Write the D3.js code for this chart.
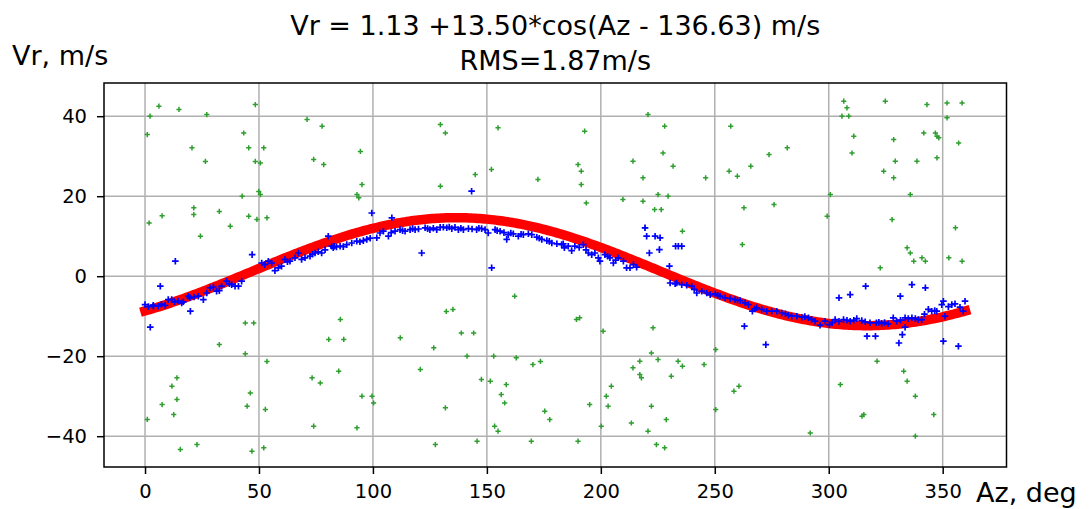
<!DOCTYPE html>
<html>
<head>
<meta charset="utf-8">
<script src="https://cdn.jsdelivr.net/npm/d3@7"></script>
<style>
  html, body { margin: 0; padding: 0; background: #fff; }
  svg { display: block; }
  text { font-family: "DejaVu Sans", sans-serif; fill: #000; }
</style>
</head>
<body>
<svg id="chart" width="1089" height="509"></svg>
<script>
// Radial velocity vs azimuth: fitted sine wave, accepted points and rejected outliers.

// Fit parameters (Vr = offset + amp * cos(Az - phase))
const fitOffset = 1.13;
const fitAmp = 13.50;
const fitPhase = 136.63;
const fitRms = 1.87;

// Tick labels
const xTicks = [0, 50, 100, 150, 200, 250, 300, 350];
const yTicks = [-40, -20, 0, 20, 40];

// Accepted measurements (blue)
const blueAz = [
  0, 1.5, 3.6, 3.7, 5.8, 7.2, 8.8, 10.2, 11.7, 13.0, 14.5, 16.1, 16.8, 19.0, 19.7, 21.5, 23.4, 25.6, 27.1, 28.5,
  30.0, 31.4, 32.6, 33.6, 35.8, 37.0, 38.0, 39.5, 41.0, 42.4, 51.2, 52.5, 54.1, 55.6, 57.0, 58.5, 59.9, 61.4, 62.5, 63.6,
  65.8, 67.3, 68.7, 70.2, 72.4, 73.5, 74.6, 76.0, 77.5, 79.0, 81.9, 83.0, 82.6, 84.0, 85.6, 87.0, 88.5, 90.7, 92.9, 94.3,
  95.8, 97.3, 98.8, 101.7, 103.1, 104.6, 106.8, 108.0, 109.7, 111.9, 113.0, 114.1, 116.3, 117.4, 118.5, 120.0, 122.9, 124.0, 125.0, 126.5,
  128.0, 129.5, 130.9, 132.4, 133.5, 134.6, 136.0, 137.5, 138.6, 139.7, 141.9, 143.5, 145.5, 146.5, 147.7, 149.2, 150.6, 153.6, 154.5, 155.8,
  157.5, 159.4, 160.5, 161.6, 163.8, 165.0, 166.0, 168.2, 169.7, 171.9, 173.0, 174.1, 176.3, 177.4, 178.5, 180.7, 182.8, 183.5, 184.0, 185.7,
  187.2, 188.6, 190.5, 192.3, 193.5, 194.5, 196.0, 197.4, 198.9, 199.6, 201.8, 203.0, 204.0, 205.5, 206.5, 207.7, 209.9, 211.3, 212.8, 214.3,
  215.7, 230.4, 232.6, 233.3, 235.5, 237.7, 239.9, 241.0, 242.1, 244.3, 246.5, 248.0, 250.2, 251.3, 252.3, 254.5, 256.7, 258.9, 260.0, 261.1,
  263.3, 264.8, 266.5, 267.5, 268.4, 270.6, 272.8, 275.0, 277.2, 279.4, 281.0, 282.3, 283.8, 286.0, 288.2, 289.5, 291.1, 292.5, 294.0, 296.2,
  298.4, 300.3, 301.5, 302.8, 304.5, 306.5, 308.0, 309.4, 311.0, 312.3, 314.5, 316.0, 318.1, 320.9, 322.0, 323.2, 324.5, 326.1, 328.3, 329.8,
  331.5, 333.5, 334.9, 336.5, 338.0, 339.3, 340.8, 342.0, 343.7, 345.2, 346.5, 347.4, 349.6, 350.3, 351.0, 352.5, 354.0, 355.4, 357.6, 359.0,
  359.8,
  // scattered accepted points away from the curve
  13.3, 6.7, 2.3, 19.9, 47.0, 80.4, 99.5, 108.3, 121.4, 143.3, 152.1, 158.7,
  219.4, 220.1, 221.3, 223.8, 226.0, 225.7, 230.1, 232.8, 234.0, 235.5,
  263.0, 272.4, 304.5, 309.4, 316.2, 316.8, 320.5, 331.4, 332.3, 330.8, 333.5, 336.5, 342.4, 350.3, 356.9
];
const blueVr = [
  -7.1, -7.6, -7.25, -7.5, -7.5, -7.0, -7.3, -5.85, -5.85, -6.4, -6.2, -6.7, -6.4, -5.0, -5.4, -5.2, -5.0, -5.85, -4.2, -2.9,
  -2.7, -3.75, -3.6, -2.5, -1.25, -1.9, -2.1, -2.5, -2.5, -1.25, 3.3, 2.9, 3.75, 3.3, 1.4, 2.1, 2.5, 4.2, 3.6, 3.75,
  4.6, 5.8, 4.2, 4.6, 5.0, 5.5, 5.8, 6.1, 5.8, 6.6, 7.5, 7.5, 7.1, 7.3, 7.5, 7.4, 7.9, 8.3, 8.75, 8.6,
  8.9, 9.2, 9.5, 9.6, 10.8, 11.25, 10.0, 10.9, 11.25, 11.65, 11.4, 11.25, 11.65, 11.9, 11.65, 11.8, 12.1, 11.9, 11.65, 12.0,
  11.65, 12.2, 12.25, 12.1, 12.3, 11.9, 12.2, 11.65, 12.0, 11.65, 11.9, 11.8, 11.65, 12.0, 11.9, 11.65, 10.8, 11.65, 11.4, 11.25,
  10.9, 10.4, 10.8, 10.6, 10.0, 10.5, 10.4, 10.6, 10.4, 9.75, 9.5, 9.2, 8.9, 8.7, 8.3, 8.1, 7.9, 8.1, 7.1, 7.5,
  6.4, 7.5, 7.2, 7.9, 6.6, 5.8, 5.4, 5.8, 4.6, 3.75, 5.4, 5.0, 4.6, 3.3, 4.0, 4.6, 3.75, 2.1, 2.1, 2.9,
  2.25, -1.7, -1.9, -1.7, -2.1, -2.25, -2.5, -3.3, -4.2, -3.75, -4.2, -4.6, -4.4, -4.8, -5.0, -5.4, -5.6, -5.85, -6.0, -6.1,
  -6.65, -7.1, -8.75, -8.2, -7.9, -8.3, -8.75, -8.75, -8.75, -9.2, -9.4, -9.75, -10.0, -10.0, -10.25, -10.1, -10.4, -10.8, -11.25, -12.25,
  -11.25, -12.1, -11.6, -10.85, -11.3, -10.85, -11.0, -11.25, -11.0, -10.6, -11.1, -11.4, -11.65, -11.65, -11.5, -11.8, -11.6, -11.9, -10.4, -11.25,
  -11.0, -10.4, -10.6, -10.4, -10.6, -10.85, -10.85, -9.5, -8.3, -8.75, -8.6, -8.75, -7.1, -6.25, -10.0, -7.6, -7.1, -6.9, -7.75, -8.75,
  -6.25,
  3.75, -2.5, -12.75, -8.75, 5.4, 10.0, 15.8, 14.6, 5.8, 21.25, 2.1, 9.2,
  12.1, 10.0, 5.8, 10.0, 9.6, 6.65, 2.5, 7.5, 7.5, 7.5,
  -12.5, -17.1, -5.4, -4.6, -2.5, -15.0, -15.0, -5.0, -14.6, -16.7, -12.75, -2.1, -2.9, -16.25, -17.5
];

// Rejected measurements (green)
const greenAz = [
  6.1, 14.9, 27.1, 2.2, 1.0, 20.6, 26.5, 21.4, 21.4, 7.5, 1.8, 24.3, 32.6, 32.6, 14.0, 11.8, 14.0, 7.5, 12.6, 1.0, 22.8, 15.5,
  48.4, 71.1, 77.7, 43.3, 45.5, 52.1, 48.4, 50.6, 74.0, 78.4, 49.9, 42.6, 50.6, 45.5, 53.5, 49.1, 37.4, 44.0, 47.7, 80.6,
  44.0, 53.5, 73.3, 76.9, 46.2, 44.8, 52.8, 74.0, 52.1, 46.9,
  129.6, 131.8, 94.5, 95.2, 129.6, 93.0, 93.8, 85.7, 132.2, 87.2, 112.0, 126.7, 120.8, 85.0, 95.2, 99.6, 100.3, 131.8, 93.0, 127.4,
  154.9, 152.0, 144.9, 172.4, 162.2, 135.1, 138.8, 144.2, 141.3, 153.0, 162.9, 170.2, 173.5, 147.6, 151.5, 158.5, 156.3, 157.8,
  175.4, 177.6, 153.4, 154.9, 145.7, 169.5,
  220.7, 228.0, 192.9, 227.3, 190.0, 191.4, 231.7, 214.1, 218.5, 191.4, 225.1, 229.5, 193.6, 209.7, 218.5, 223.6, 226.5, 219.3,
  189.3, 190.7, 201.0, 222.9, 222.2, 217.1, 225.1, 233.9, 214.1, 217.1, 217.8, 230.9, 204.6, 202.4, 195.1, 203.2, 222.2, 228.7,
  200.2, 213.4, 220.7, 190.0, 224.4, 228.0,
  257.0, 281.8, 273.8, 256.3, 259.9, 265.8, 246.0, 262.8, 276.0, 235.8, 262.1, 250.4, 235.8, 245.3, 260.6, 258.4, 250.4,
  306.6, 324.8, 308.0, 305.8, 308.8, 311.0, 328.5, 310.2, 329.2, 324.1, 328.5, 300.7, 299.3, 327.8, 334.4, 335.8, 322.6,
  321.2, 332.9, 305.1, 334.4, 315.4, 314.6, 291.9,
  343.1, 351.9, 358.5, 351.9, 341.7, 346.8, 347.5, 348.3, 357.0, 338.7, 347.5, 335.8, 355.6, 337.3, 340.9, 342.4, 352.7, 358.5,
  338.0, 346.1, 338.0
];
const greenVr = [
  42.5, 41.7, 40.4, 40.0, 35.4, 32.1, 28.7, 17.1, 15.4, 15.1, 13.3, 10.0, 16.2, -17.1, -25.4, -27.5, -30.8, -32.1, -34.6, -35.8, -42.1, -43.3,
  42.9, 39.2, 37.5, 35.8, 32.1, 32.1, 28.7, 28.3, 29.2, 27.9, 21.2, 20.0, 20.4, 15.0, 14.6, 14.2, 12.5, -11.7, -11.7, -15.8,
  -19.4, -21.3, -25.4, -26.7, -29.2, -32.5, -33.3, -37.5, -42.9, -43.75,
  37.9, 35.8, 31.2, 22.9, 22.5, 20.4, 19.6, -10.8, -8.8, -15.8, -15.4, -17.9, -23.3, -23.75, -30.0, -30.0, -31.7, -32.9, -37.9, -42.1,
  37.1, 26.7, 25.4, 24.2, -5.0, -8.3, -14.2, -14.2, -20.0, -20.0, -20.4, -22.1, -21.3, -25.8, -26.25, -27.1, -29.6, -31.7,
  -33.75, -35.85, -37.5, -38.75, -41.25, -41.25,
  40.4, 37.5, 36.25, 30.8, 27.9, 26.25, 27.5, 28.75, 24.6, 22.9, 20.4, 20.0, 18.3, 19.2, 18.75, 16.65, 16.65, 12.1,
  -10.8, -10.4, -13.75, -12.9, -19.2, -21.25, -20.85, -21.25, -22.9, -24.6, -25.4, -25.0, -27.5, -30.0, -32.1, -32.5, -32.5, -35.85,
  -37.5, -36.7, -38.75, -41.25, -42.1, -42.9,
  37.5, 32.1, 30.4, 26.25, 25.0, 27.5, 24.6, 17.1, 17.9, 11.25, 7.9, -18.35, -22.5, -22.1, -27.5, -28.75, -33.35,
  43.75, 43.75, 42.1, 40.0, 40.0, 35.0, 34.15, 30.8, 28.75, 26.25, 24.6, 20.4, 15.0, 14.15, 7.1, 5.8, 2.1,
  -21.25, -23.75, -27.1, -26.25, -34.6, -35.0, -39.2,
  42.9, 43.3, 43.3, 39.6, 35.8, 35.8, 35.0, 34.6, 33.3, 28.75, 29.6, 20.4, 12.1, 3.75, 4.6, 3.75, 4.6, 3.75,
  -30.0, -34.6, -40.0
];

const svg = d3.select("#chart");
const plot = { left: 104, right: 1006.5, top: 83, bottom: 467 };

const x = d3.scaleLinear().domain([-18, 378]).range([plot.left, plot.right]);
const y = d3.scaleLinear().domain([-47.7, 48.3]).range([plot.bottom, plot.top]);

svg.append("defs").append("clipPath").attr("id", "plot-clip")
  .append("rect")
  .attr("x", plot.left).attr("y", plot.top)
  .attr("width", plot.right - plot.left).attr("height", plot.bottom - plot.top);

// Grid
const grid = svg.append("g").attr("stroke", "#b0b0b0").attr("stroke-width", 1.5);
grid.selectAll("line.gx").data(xTicks).join("line").attr("class", "gx")
  .attr("x1", d => x(d)).attr("x2", d => x(d))
  .attr("y1", plot.top).attr("y2", plot.bottom);
grid.selectAll("line.gy").data(yTicks).join("line").attr("class", "gy")
  .attr("x1", plot.left).attr("x2", plot.right)
  .attr("y1", d => y(d)).attr("y2", d => y(d));

const marks = svg.append("g").attr("clip-path", "url(#plot-clip)");

// Rejected points
const green = greenAz.map((a, i) => ({ az: a, vr: greenVr[i] }));
marks.append("g").attr("stroke", "#2e9e2e").attr("stroke-width", 1.5).attr("fill", "none")
  .selectAll("path").data(green).join("path")
  .attr("transform", d => `translate(${x(d.az)},${y(d.vr)})`)
  .attr("d", "M-2.6,0H2.6M0,-2.6V2.6");

// Fitted curve from the stated parameters
const fitAz = d3.range(0, 360.5, 1);
const fitFn = a => fitOffset + fitAmp * Math.cos((a - fitPhase) * Math.PI / 180);
marks.append("path")
  .datum(fitAz)
  .attr("fill", "none")
  .attr("stroke", "#ff0000")
  .attr("stroke-width", 9.5)
  .attr("stroke-linecap", "square")
  .attr("d", d3.line().x(a => x(a)).y(a => y(fitFn(a))).curve(d3.curveLinear));

// Accepted points
const blue = blueAz.map((a, i) => ({ az: a, vr: blueVr[i] }));
marks.append("g").attr("stroke", "#0000ff").attr("stroke-width", 1.7).attr("fill", "none")
  .selectAll("path").data(blue).join("path")
  .attr("transform", d => `translate(${x(d.az)},${y(d.vr)})`)
  .attr("d", "M-3.3,0H3.3M0,-3.3V3.3");

// Axes
const xAxis = d3.axisBottom(x).tickValues(xTicks).tickSize(7).tickPadding(10).tickFormat(d3.format("d"));
const yAxis = d3.axisLeft(y).tickValues(yTicks).tickSize(7).tickPadding(10).tickFormat(d => d < 0 ? "\u2212" + Math.abs(d) : d);

const gx = svg.append("g").attr("transform", `translate(0,${plot.bottom})`).call(xAxis);
const gy = svg.append("g").attr("transform", `translate(${plot.left},0)`).call(yAxis);
[gx, gy].forEach(g => {
  g.select(".domain").remove();
  g.selectAll(".tick line").attr("stroke", "#000").attr("stroke-width", 1.5);
  g.selectAll(".tick text").attr("font-family", "DejaVu Sans").attr("font-size", 19.5).attr("fill", "#000");
});
gx.selectAll(".tick text").attr("dy", "0.71em");

// Frame
svg.append("rect")
  .attr("x", plot.left).attr("y", plot.top)
  .attr("width", plot.right - plot.left).attr("height", plot.bottom - plot.top)
  .attr("fill", "none").attr("stroke", "#000").attr("stroke-width", 1.5);

// Title
const cx = (plot.left + plot.right) / 2;
svg.append("text").attr("x", cx).attr("y", 35).attr("text-anchor", "middle").attr("font-size", 27)
  .text(`Vr = ${fitOffset.toFixed(2)} +${fitAmp.toFixed(2)}*cos(Az - ${fitPhase.toFixed(2)}) m/s`);
svg.append("text").attr("x", cx).attr("y", 70).attr("text-anchor", "middle").attr("font-size", 27)
  .text(`RMS=${fitRms.toFixed(2)}m/s`);

// Axis labels
svg.append("text").attr("x", 12).attr("y", 65).attr("font-size", 27).text("Vr, m/s");
svg.append("text").attr("x", 976).attr("y", 502).attr("font-size", 27).text("Az, deg");
</script>
</body>
</html>
